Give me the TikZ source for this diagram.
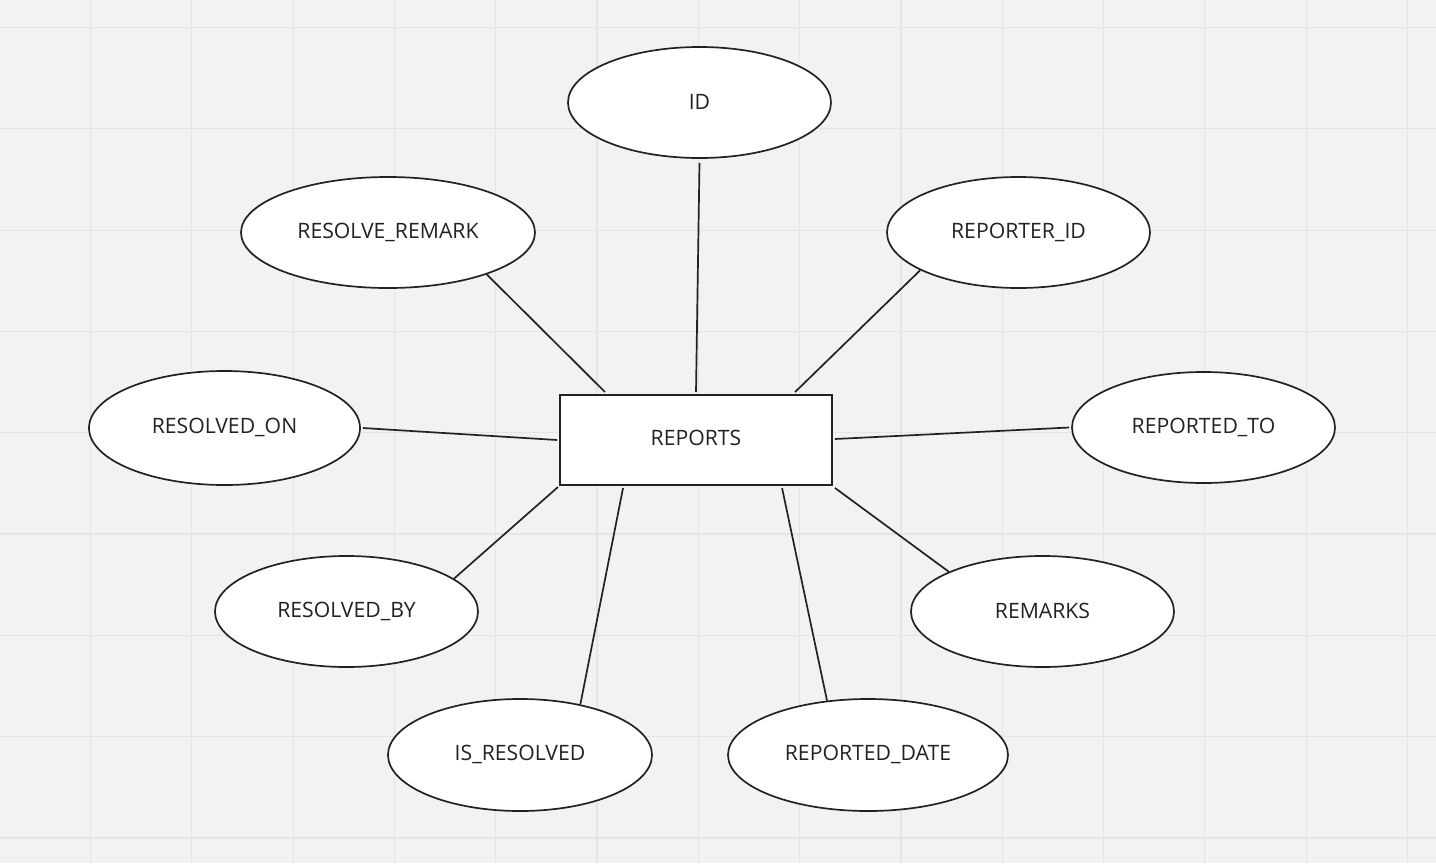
\documentclass[tikz,border=0pt]{standalone}
\usepackage{fontspec}
\setmainfont{Open Sans}
\usetikzlibrary{shapes.geometric,calc}
\definecolor{bg}{HTML}{F2F2F2}
\definecolor{gridc}{HTML}{E5E5E5}
\definecolor{ink}{HTML}{222222}
\begin{document}
\begin{tikzpicture}[x=1pt,y=-1pt,
  lbl/.style={text=ink,font=\fontsize{21.2}{25}\selectfont},
  attr/.style={ellipse,draw=ink,line width=1.7pt,fill=white,inner sep=0pt},
  ent/.style={rectangle,draw=ink,line width=1.9pt,fill=white,inner sep=0pt,minimum width=272pt,minimum height=90pt},
  link/.style={draw=ink,line width=1.7pt}]
\fill[bg] (0,0) rectangle (1436,863);
\useasboundingbox (0,0) rectangle (1436,863);
\foreach \i in {0,...,13} {\draw[gridc,line width=1.2pt] ({90.5+101.3*\i},0) -- ({90.5+101.3*\i},863);}
\foreach \j in {0,...,8} {\draw[gridc,line width=1.2pt] (0,{27.5+101.3*\j}) -- (1436,{27.5+101.3*\j});}

\node[ent] (rep) at (696,440) {};
\node[attr,minimum width=263pt,minimum height=111pt] (id) at (699.5,102.5) {};
\node[attr,minimum width=294pt,minimum height=111pt] (rr) at (388,232.5) {};
\node[attr,minimum width=263pt,minimum height=111pt] (rid) at (1018.5,232.5) {};
\node[attr,minimum width=271pt,minimum height=114pt] (ron) at (224.5,428) {};
\node[attr,minimum width=263pt,minimum height=111pt] (rto) at (1203.5,427.5) {};
\node[attr,minimum width=263pt,minimum height=111pt] (rby) at (346.5,611.5) {};
\node[attr,minimum width=263pt,minimum height=111pt] (rem) at (1042.5,611.5) {};
\node[attr,minimum width=264pt,minimum height=112pt] (isr) at (520,755) {};
\node[attr,minimum width=280pt,minimum height=112pt] (rdt) at (868,755) {};

\node[lbl] (trep) at ($(rep.center)+(0,-2.5)$) {REPORTS};
\node[lbl] (tid) at ($(id.center)+(0,-0.5)$) {ID};
\node[lbl] (trr) at ($(rr.center)+(0,-0.5)$) {RESOLVE\_REMARK};
\node[lbl] (trid) at ($(rid.center)+(0,-0.5)$) {REPORTER\_ID};
\node[lbl] (tron) at ($(ron.center)+(0,-0.5)$) {RESOLVED\_ON};
\node[lbl] (trto) at ($(rto.center)+(0,-0.5)$) {REPORTED\_TO};
\node[lbl] (trby) at ($(rby.center)+(0,-0.5)$) {RESOLVED\_BY};
\node[lbl] (trem) at ($(rem.center)+(0,-0.5)$) {REMARKS};
\node[lbl] (tisr) at ($(isr.center)+(0,-0.5)$) {IS\_RESOLVED};
\node[lbl] (trdt) at ($(rdt.center)+(0,-0.5)$) {REPORTED\_DATE};

\coordinate (pid) at ($(rep.north)+(0,-2)$);
\coordinate (prr) at ($(rep.north west)+(46,-2)$);
\coordinate (prid) at ($(rep.north west)+(236,-2)$);
\coordinate (pron) at ($(rep.west)+(-2,0)$);
\coordinate (prto) at ($(rep.east)+(2,-1)$);
\coordinate (prby) at ($(rep.south west)+(-1,1)$);
\coordinate (pisr) at ($(rep.south west)+(64,2)$);
\coordinate (prdt) at ($(rep.south west)+(223,2)$);
\coordinate (prem) at ($(rep.south east)+(2,2)$);

\draw[link] ($(id.south)+(0,4)$) -- (pid);
\draw[link] (rr.-23.7) -- (prr);
\draw[link] (rid.-159.5) -- (prid);
\draw[link] ($(ron.east)+(2,0)$) -- (pron);
\draw[link] ($(rto.west)+(-2,0)$) -- (prto);
\draw[link] (rby.17.2) -- (prby);
\draw[link] (isr.40.8) -- (pisr);
\draw[link] (rdt.127.4) -- (prdt);
\draw[link] (rem.157.7) -- (prem);
\end{tikzpicture}
\end{document}
